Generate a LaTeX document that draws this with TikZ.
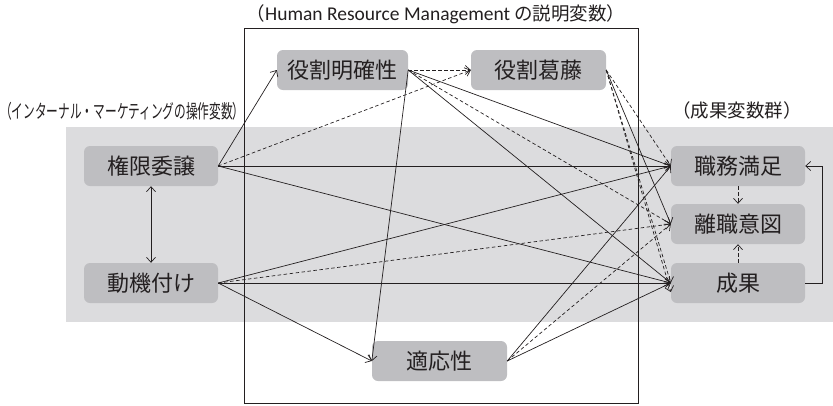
\documentclass[tikz,border=0pt]{standalone}
\usepackage{fontspec}
\usepackage{graphicx}
\usetikzlibrary{arrows.meta,calc}
\newfontfamily\jp{Noto Sans CJK JP}
\newfontfamily\latf{Carlito}
\definecolor{nodegray}{HTML}{BEBEC1}
\definecolor{bandgray}{HTML}{DCDCDE}
\definecolor{ink}{HTML}{231F20}
\begin{document}
\begin{tikzpicture}[x=1pt,y=-1pt,
  nbox/.style={fill=nodegray, rounded corners=6pt, minimum width=134pt, minimum height=40pt, inner sep=0pt, text=ink, font=\jp\fontsize{22}{22}\selectfont},
  lbl/.style={text=ink, inner sep=0pt, font=\jp\fontsize{18.5}{18.5}\selectfont},
  sol/.style={draw=ink, line width=0.7pt, -{Straight Barb[length=5pt,width=9pt]}},
  das/.style={sol, dash pattern=on 3.5pt off 2.5pt},
]
\useasboundingbox (0,0) rectangle (833,405);
\fill[bandgray] (66,127) rectangle (833,322);
\draw[ink, line width=1pt] (244,28) rectangle (638,403);

\node[lbl] (tl) at (436,14) {（{\latf\fontsize{19.5}{19.5}\selectfont Human Resource Management} の説明変数）};
\node[lbl, anchor=west] (ll) at (0,111) {\scalebox{0.615}[1]{\fontsize{19}{19}\selectfont（インターナル・マーケティングの操作変数）}};
\node[lbl] (rl) at (737,110) {（成果変数群）};

\node[nbox] (kg) at (151,166) {権限委譲};
\node[nbox] (dk) at (151,283) {動機付け};
\node[nbox, minimum width=131pt] (mk) at (342.5,70) {役割明確性};
\node[nbox, minimum width=135pt] (kt) at (538.5,70) {役割葛藤};
\node[nbox, minimum width=135pt] (tk) at (439.5,361) {適応性};
\node[nbox] (sm) at (738,166) {職務満足};
\node[nbox] (ri) at (738,224) {離職意図};
\node[nbox] (sk) at (738,283) {成果};

% from 権限委譲
\draw[sol] (kg.east) -- (mk.west);
\draw[das] (kg.east) -- (kt.west);
\draw[sol] (kg.east) -- (sm.west);
\draw[sol] (kg.east) -- (sk.west);
\draw[sol, {Straight Barb[length=5pt,width=9pt]}-{Straight Barb[length=5pt,width=9pt]}] (kg.south) -- (dk.north);
% from 動機付け
\draw[sol] (dk.east) -- (sm.west);
\draw[das] (dk.east) -- (ri.west);
\draw[sol] (dk.east) -- (sk.west);
\draw[sol] (dk.east) -- (tk.west);
% from 役割明確性
\draw[das] (mk.east) -- (kt.west);
\draw[sol] (mk.east) -- (tk.west);
\draw[sol] (mk.east) -- (sm.west);
\draw[das] (mk.east) -- (ri.west);
\draw[sol] (mk.east) -- (sk.west);
% from 役割葛藤
\draw[das] (kt.east) -- (sm.west);
\draw[sol] (kt.east) -- (ri.west);
\draw[das] (kt.east) -- (sk.west);
\draw[das] (kt.east) -- ([yshift=-9pt]sk.west);
% from 適応性
\draw[sol] (tk.east) -- (sm.west);
\draw[das] (tk.east) -- (ri.west);
\draw[sol] (tk.east) -- (sk.west);
% among outcomes
\draw[das] (sm.south) -- (ri.north);
\draw[das] (sk.north) -- (ri.south);
\coordinate (lp1) at (822,283);
\coordinate (lp2) at (822,166);
\draw[sol] (sk.east) -- (lp1) -- (lp2) -- (sm.east);
\end{tikzpicture}
\end{document}
